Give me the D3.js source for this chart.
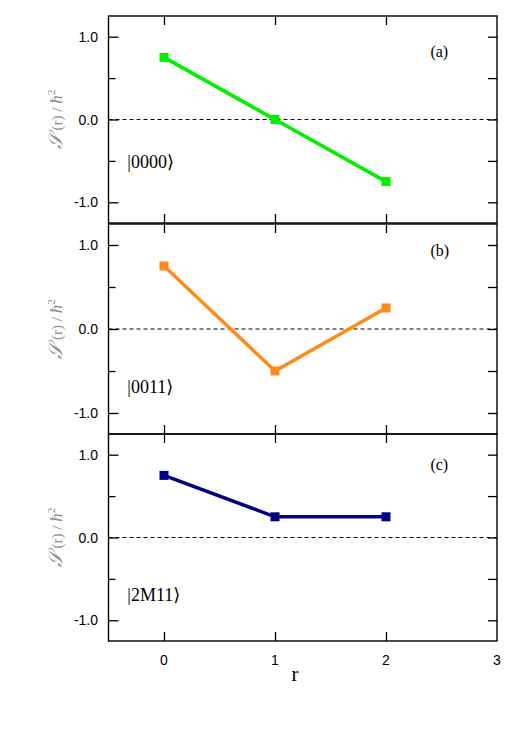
<!DOCTYPE html>
<html>
<head>
<meta charset="utf-8">
<script src="https://cdn.jsdelivr.net/npm/d3@7"></script>
<style>
  body { margin: 0; background: #fff; }
  svg { display: block; }
</style>
</head>
<body>
<svg id="chart" width="518" height="733"></svg>
<script>
// data
var rValues = [0, 1, 2];
var seriesA = [0.75, 0.0, -0.75];
var seriesB = [0.75, -0.5, 0.25];
var seriesC = [0.75, 0.25, 0.25];
var panelTags = ["(a)", "(b)", "(c)"];
var stateNames = ["0000", "0011", "2M11"];
var xTicks = [0, 1, 2, 3];
var yMajor = [-1, 0, 1];
var yMinor = [-0.5, 0.5];

var series = [seriesA, seriesB, seriesC];
var colors = ["#00f000", "#ff8c1a", "#000080"];

// layout: [top, bottom] of each panel frame
var panels = [[16, 223], [224, 434], [434, 641]];
var ketY = [-0.58, -0.76, -0.77];
var tagY = [0.75, 0.87, 0.81];

var svg = d3.select("#chart");

var x = d3.scaleLinear().domain([-0.5, 3]).range([108.5, 497]);

var line = d3.line()
    .x(function(d, i) { return x(rValues[i]); });

panels.forEach(function(p, k) {
    var y = d3.scaleLinear().domain([-1.25, 1.25]).range([p[1], p[0]]);
    var g = svg.append("g");

    // zero line
    g.append("line")
        .attr("x1", x(-0.5)).attr("x2", x(3))
        .attr("y1", y(0)).attr("y2", y(0))
        .attr("stroke", "#000")
        .attr("stroke-width", 1)
        .attr("stroke-dasharray", "4,3");

    // left axis, inward ticks
    var left = g.append("g").attr("transform", "translate(" + x(-0.5) + ",0)");
    left.call(d3.axisRight(y).tickValues(yMajor).tickSize(10).tickFormat(""));
    left.append("g").call(d3.axisRight(y).tickValues(yMinor).tickSize(7).tickFormat(""));
    left.selectAll(".domain").remove();

    // right axis, inward ticks
    var right = g.append("g").attr("transform", "translate(" + x(3) + ",0)");
    right.call(d3.axisLeft(y).tickValues(yMajor.concat(yMinor)).tickSize(9).tickFormat(""));
    right.selectAll(".domain").remove();

    // top and bottom inward ticks
    var top = g.append("g").attr("transform", "translate(0," + p[0] + ")");
    top.call(d3.axisBottom(x).tickValues(rValues).tickSize(9).tickFormat(""));
    top.selectAll(".domain").remove();
    var bot = g.append("g").attr("transform", "translate(0," + p[1] + ")");
    bot.call(d3.axisTop(x).tickValues(rValues).tickSize(9).tickFormat(""));
    bot.selectAll(".domain").remove();
    g.selectAll(".tick line").attr("stroke-width", 1.3);

    // y tick labels
    g.selectAll(".ylab")
        .data(yMajor)
        .enter().append("text")
        .attr("x", 98)
        .attr("y", function(d) { return y(d); })
        .attr("dy", "0.36em")
        .attr("text-anchor", "end")
        .attr("font-family", "Liberation Sans, Arial, sans-serif")
        .attr("font-size", 14)
        .text(function(d) { return d.toFixed(1); });

    // frame
    g.append("rect")
        .attr("x", x(-0.5)).attr("y", p[0])
        .attr("width", x(3) - x(-0.5)).attr("height", p[1] - p[0])
        .attr("fill", "none")
        .attr("stroke", "#000")
        .attr("stroke-width", 1.4);

    // series
    g.append("path")
        .datum(series[k])
        .attr("d", line.y(function(d) { return y(d); }))
        .attr("fill", "none")
        .attr("stroke", colors[k])
        .attr("stroke-width", 3.5);

    g.selectAll(".pt")
        .data(series[k])
        .enter().append("rect")
        .attr("x", function(d, i) { return x(rValues[i]) - 4.5; })
        .attr("y", function(d) { return y(d) - 4.5; })
        .attr("width", 9).attr("height", 9)
        .attr("fill", colors[k]);

    // panel tag and state ket
    g.append("text")
        .attr("x", x(2.4)).attr("y", y(tagY[k]))
        .attr("font-family", "Liberation Serif, Times New Roman, serif")
        .attr("font-size", 16)
        .text(panelTags[k]);

    g.append("text")
        .attr("x", x(-0.33)).attr("y", y(ketY[k]))
        .attr("font-family", "Liberation Serif, DejaVu Serif, serif")
        .attr("font-size", 18)
        .text("|" + stateNames[k] + "\u27E9");

    // y label
    var yl = g.append("text")
        .attr("transform", "translate(62," + y(0) + ") rotate(-90)")
        .attr("text-anchor", "middle")
        .attr("fill", "#8a8a8a")
        .attr("font-family", "Liberation Serif, DejaVu Serif, serif")
        .attr("font-size", 15);
    yl.append("tspan").attr("font-style", "italic").attr("font-size", 19).text("\uD835\uDCAE");
    yl.append("tspan").text(" (r) / ");
    yl.append("tspan").attr("font-style", "italic").attr("font-size", 17).text("\u0127");
    yl.append("tspan").attr("font-size", 11).attr("dy", -7).text("2");
});

// x tick labels
svg.selectAll(".xlab")
    .data(xTicks)
    .enter().append("text")
    .attr("x", function(d) { return x(d); })
    .attr("y", 665)
    .attr("text-anchor", "middle")
    .attr("font-family", "Liberation Sans, Arial, sans-serif")
    .attr("font-size", 14)
    .text(function(d) { return d; });

svg.append("text")
    .attr("x", x(1.18)).attr("y", 681)
    .attr("text-anchor", "middle")
    .attr("font-family", "Liberation Serif, Times New Roman, serif")
    .attr("font-size", 21)
    .text("r");
</script>
</body>
</html>
